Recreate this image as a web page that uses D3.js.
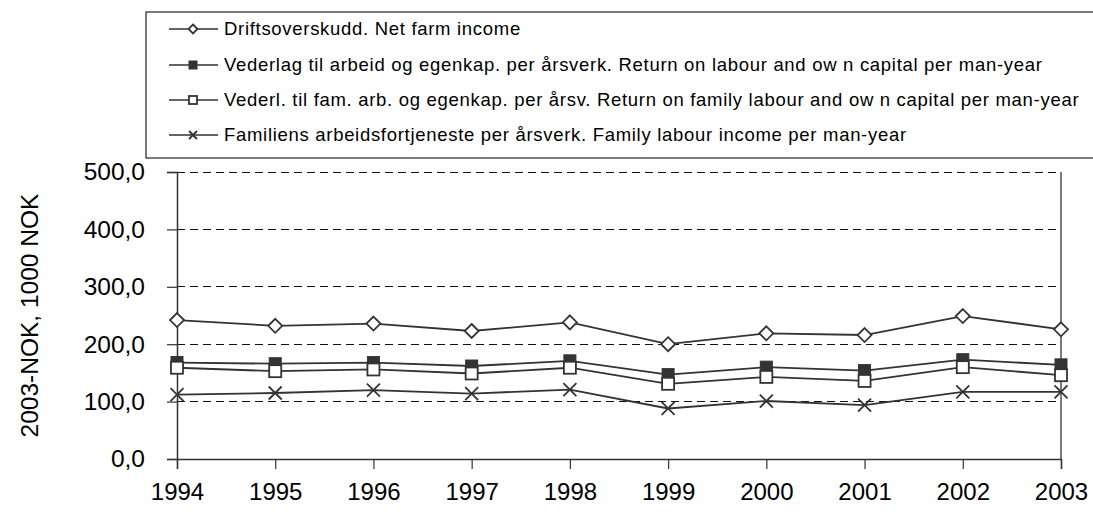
<!DOCTYPE html>
<html><head><meta charset="utf-8">
<script src="https://cdn.jsdelivr.net/npm/d3@7"></script>
<style>
html,body{margin:0;padding:0;background:#fff;}
svg{display:block;font-family:Arial,"Liberation Sans",sans-serif;}
</style></head>
<body>
<svg id="c" width="1093" height="514"></svg>
<script>
const years = [1994,1995,1996,1997,1998,1999,2000,2001,2002,2003];
const netFarmIncome = [242,232,236,223,238,200,219,216,249,226];
const returnLabourCapital = [168,166,168,162,171,147,160,154,173,164];
const returnFamilyLabourCapital = [159,153,156,149,159,131,143,136,160,146];
const familyLabourIncome = [112,115,120,114,121,88,101,94,117,117];
const yTicks = [0,100,200,300,400,500];
const seriesNames = [
  "Driftsoverskudd. Net farm income",
  "Vederlag til arbeid og egenkap. per årsverk. Return on labour and ow n capital per man-year",
  "Vederl. til fam. arb. og egenkap. per årsv. Return on family labour and ow n capital per man-year",
  "Familiens arbeidsfortjeneste per årsverk.  Family labour income per man-year"
];
const markers = ["diamond","filledSquare","openSquare","cross"];
const yTitle = "2003-NOK, 1000 NOK";

const series = [netFarmIncome, returnLabourCapital, returnFamilyLabourCapital, familyLabourIncome]
  .map((v,i)=>({name:seriesNames[i], marker:markers[i], values:v}));

const svg = d3.select("#c");
const L = 177, R = 1061, T = 172, B = 459;
const x = d3.scaleLinear().domain([years[0], years[years.length-1]]).range([L,R]);
const y = d3.scaleLinear().domain([0,500]).range([B,T]);
const ink = "#333";

// Legend box
svg.append("rect").attr("x",146).attr("y",12).attr("width",1000).attr("height",146)
  .attr("fill","#fff").attr("stroke","#222").attr("stroke-width",1.2);

// gridlines
svg.append("g").selectAll("line").data(yTicks.filter(d=>d>0)).join("line")
  .attr("x1",L).attr("x2",R).attr("y1",d=>y(d)).attr("y2",d=>y(d))
  .attr("stroke","#111").attr("stroke-width",1).attr("stroke-dasharray","8,5")
  .attr("shape-rendering","crispEdges");

// right border
svg.append("line").attr("x1",R).attr("x2",R).attr("y1",T).attr("y2",B)
  .attr("stroke",ink).attr("stroke-width",1.3);

// axes
const yAxis = d3.axisLeft(y).tickValues(yTicks).tickSize(10).tickPadding(22)
  .tickFormat(d=>d3.format(".1f")(d).replace(".",","));
const gy = svg.append("g").attr("transform",`translate(${L},0)`).call(yAxis);
gy.select(".domain").attr("stroke",ink).attr("stroke-width",1.5);
gy.selectAll(".tick line").attr("stroke",ink).attr("stroke-width",1.2);
gy.selectAll(".tick text").attr("font-size",24.5).attr("fill","#000")
  .attr("font-family","Arial, 'Liberation Sans', sans-serif");

const xAxis = d3.axisBottom(x).tickValues(years).tickSize(10).tickPadding(14).tickFormat(d3.format("d"));
const gx = svg.append("g").attr("transform",`translate(0,${B})`).call(xAxis);
gx.select(".domain").attr("stroke",ink).attr("stroke-width",1.5);
gx.selectAll(".tick line").attr("stroke",ink).attr("stroke-width",1.2);
gx.selectAll(".tick text").attr("font-size",24).attr("fill","#000")
  .attr("font-family","Arial, 'Liberation Sans', sans-serif");

// y title
svg.append("text").attr("transform",`translate(38,${(T+B)/2}) rotate(-90)`)
  .attr("text-anchor","middle").attr("font-size",24.5).attr("fill","#000").text(yTitle);

function drawMarker(g, type, cx, cy, s){
  if(type==="diamond"){
    g.append("path").attr("d",`M${cx},${cy-s/2}L${cx+s/2},${cy}L${cx},${cy+s/2}L${cx-s/2},${cy}Z`)
      .attr("fill","#fff").attr("stroke",ink).attr("stroke-width",1.8);
  } else if(type==="filledSquare"){
    g.append("rect").attr("x",cx-s/2).attr("y",cy-s/2).attr("width",s).attr("height",s)
      .attr("fill",ink).attr("stroke",ink).attr("stroke-width",1);
  } else if(type==="openSquare"){
    g.append("rect").attr("x",cx-s/2).attr("y",cy-s/2).attr("width",s).attr("height",s)
      .attr("fill","#fff").attr("stroke",ink).attr("stroke-width",1.8);
  } else {
    const h=s/2;
    g.append("path").attr("d",`M${cx-h},${cy-h}L${cx+h},${cy+h}M${cx-h},${cy+h}L${cx+h},${cy-h}`)
      .attr("fill","none").attr("stroke",ink).attr("stroke-width",1.8);
  }
}

const line = d3.line().x((d,i)=>x(years[i])).y(d=>y(d));
const sizes = {diamond:14, filledSquare:12, openSquare:12, cross:13};
series.forEach(s=>{
  const g = svg.append("g");
  g.append("path").attr("d",line(s.values)).attr("fill","none").attr("stroke",ink).attr("stroke-width",1.8);
  s.values.forEach((v,i)=>drawMarker(g, s.marker, x(years[i]), y(v), sizes[s.marker]));
});

// legend
const legY = [29, 65, 100, 135];
const lsz = {diamond:9, filledSquare:8, openSquare:8, cross:8};
series.forEach((s,i)=>{
  const g = svg.append("g");
  const cy = legY[i];
  g.append("line").attr("x1",169).attr("x2",218).attr("y1",cy).attr("y2",cy).attr("stroke",ink).attr("stroke-width",1.6);
  drawMarker(g, s.marker, 193, cy, lsz[s.marker]);
  g.append("text").attr("x",224).attr("y",cy).attr("dy","0.35em").attr("font-size",18.5)
    .attr("letter-spacing","0.7px").attr("fill","#000").text(s.name);
});
</script>
</body></html>
